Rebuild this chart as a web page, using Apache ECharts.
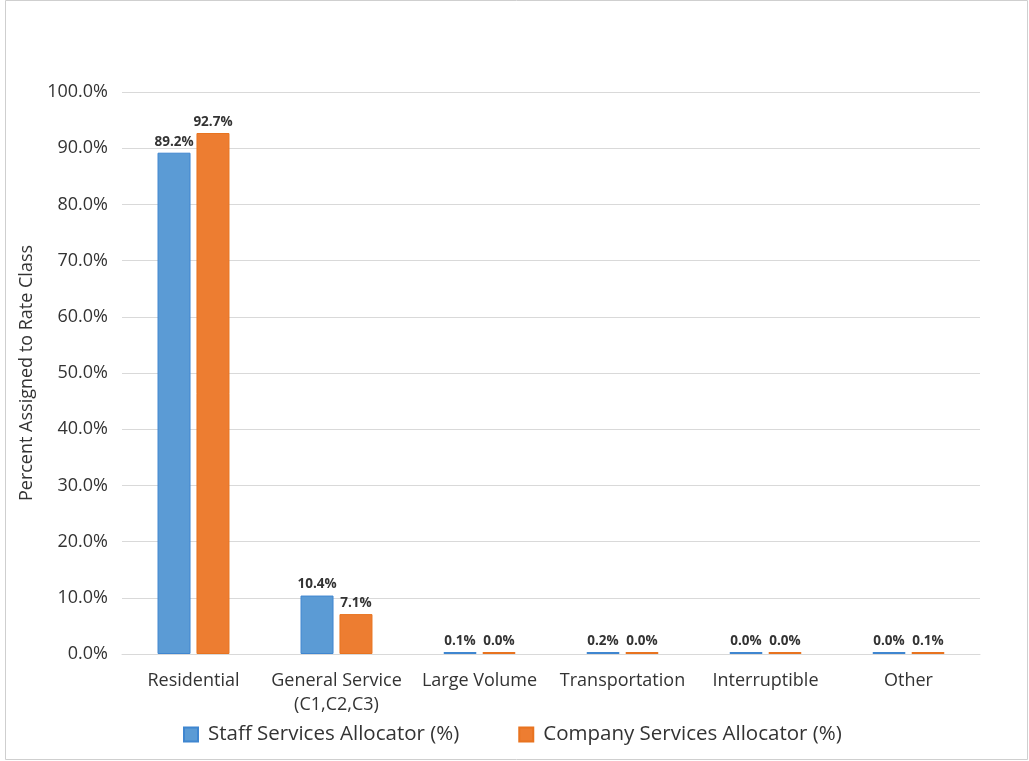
<!DOCTYPE html>
<html><head><meta charset="utf-8">
<script src="https://cdn.jsdelivr.net/npm/echarts@6/dist/echarts.min.js"></script>
<style>html,body{margin:0;padding:0;background:#fff}#c{width:1029px;height:761px}</style>
</head><body><div id="c"></div>
<script>
const categories = ['Residential', 'General Service\n(C1,C2,C3)', 'Large Volume', 'Transportation', 'Interruptible', 'Other'];
const staffValues = [89.2, 10.4, 0.1, 0.2, 0.0, 0.0];
const companyValues = [92.7, 7.1, 0.0, 0.0, 0.0, 0.1];
const seriesNames = ['Staff Services Allocator (%)', 'Company Services Allocator (%)'];
const yTicks = {min: 0, max: 100, interval: 10};

const font = '"Open Sans", "Noto Sans", sans-serif';
const chart = echarts.init(document.getElementById('c'));
const lbl = {show: true, position: 'top', distance: 4, fontFamily: font, fontSize: 13.5, fontWeight: 'bold', color: '#333',
  formatter: p => p.value.toFixed(1) + '%'};
chart.setOption({
  animation: false,
  backgroundColor: '#fff',
  graphic: [{type: 'rect', left: 3, top: -2, shape: {width: 1022, height: 759}, style: {fill: 'none', stroke: '#cfcfcf', lineWidth: 1}, silent: true, z: -1}],
  grid: {left: 122, right: 49, top: 92, bottom: 107, containLabel: false},
  legend: {top: 719, left: 178, itemWidth: 14, itemHeight: 14, itemGap: 59, icon: 'rect',
    textStyle: {fontFamily: font, fontSize: 20.5, color: '#333', padding: [0, 0, 0, 5]}, data: seriesNames},
  xAxis: {type: 'category', data: categories,
    axisLine: {lineStyle: {color: '#d9d9d9'}}, axisTick: {show: false},
    axisLabel: {fontFamily: font, fontSize: 18, color: '#333', margin: 15, lineHeight: 24, interval: 0}},
  yAxis: {type: 'value', min: yTicks.min, max: yTicks.max, interval: yTicks.interval,
    name: 'Percent Assigned to Rate Class', nameLocation: 'middle', nameGap: 84, nameRotate: 90,
    nameTextStyle: {fontFamily: font, fontSize: 18, color: '#333'},
    axisLine: {show: false}, axisTick: {show: false},
    splitLine: {lineStyle: {color: '#d9d9d9'}},
    axisLabel: {fontFamily: font, fontSize: 18, color: '#333', margin: 14, formatter: v => v.toFixed(1) + '%'}},
  series: [
    {name: seriesNames[0], type: 'bar', data: staffValues, barWidth: 33, barGap: '18%', barMinHeight: 2,
     itemStyle: {color: '#5B9BD5', borderColor: '#3f86d0', borderWidth: 1}, label: lbl},
    {name: seriesNames[1], type: 'bar', data: companyValues, barWidth: 33, barGap: '18%', barMinHeight: 2,
     itemStyle: {color: '#ED7D31', borderColor: '#e8731f', borderWidth: 1}, label: lbl}
  ]
});
</script></body></html>
